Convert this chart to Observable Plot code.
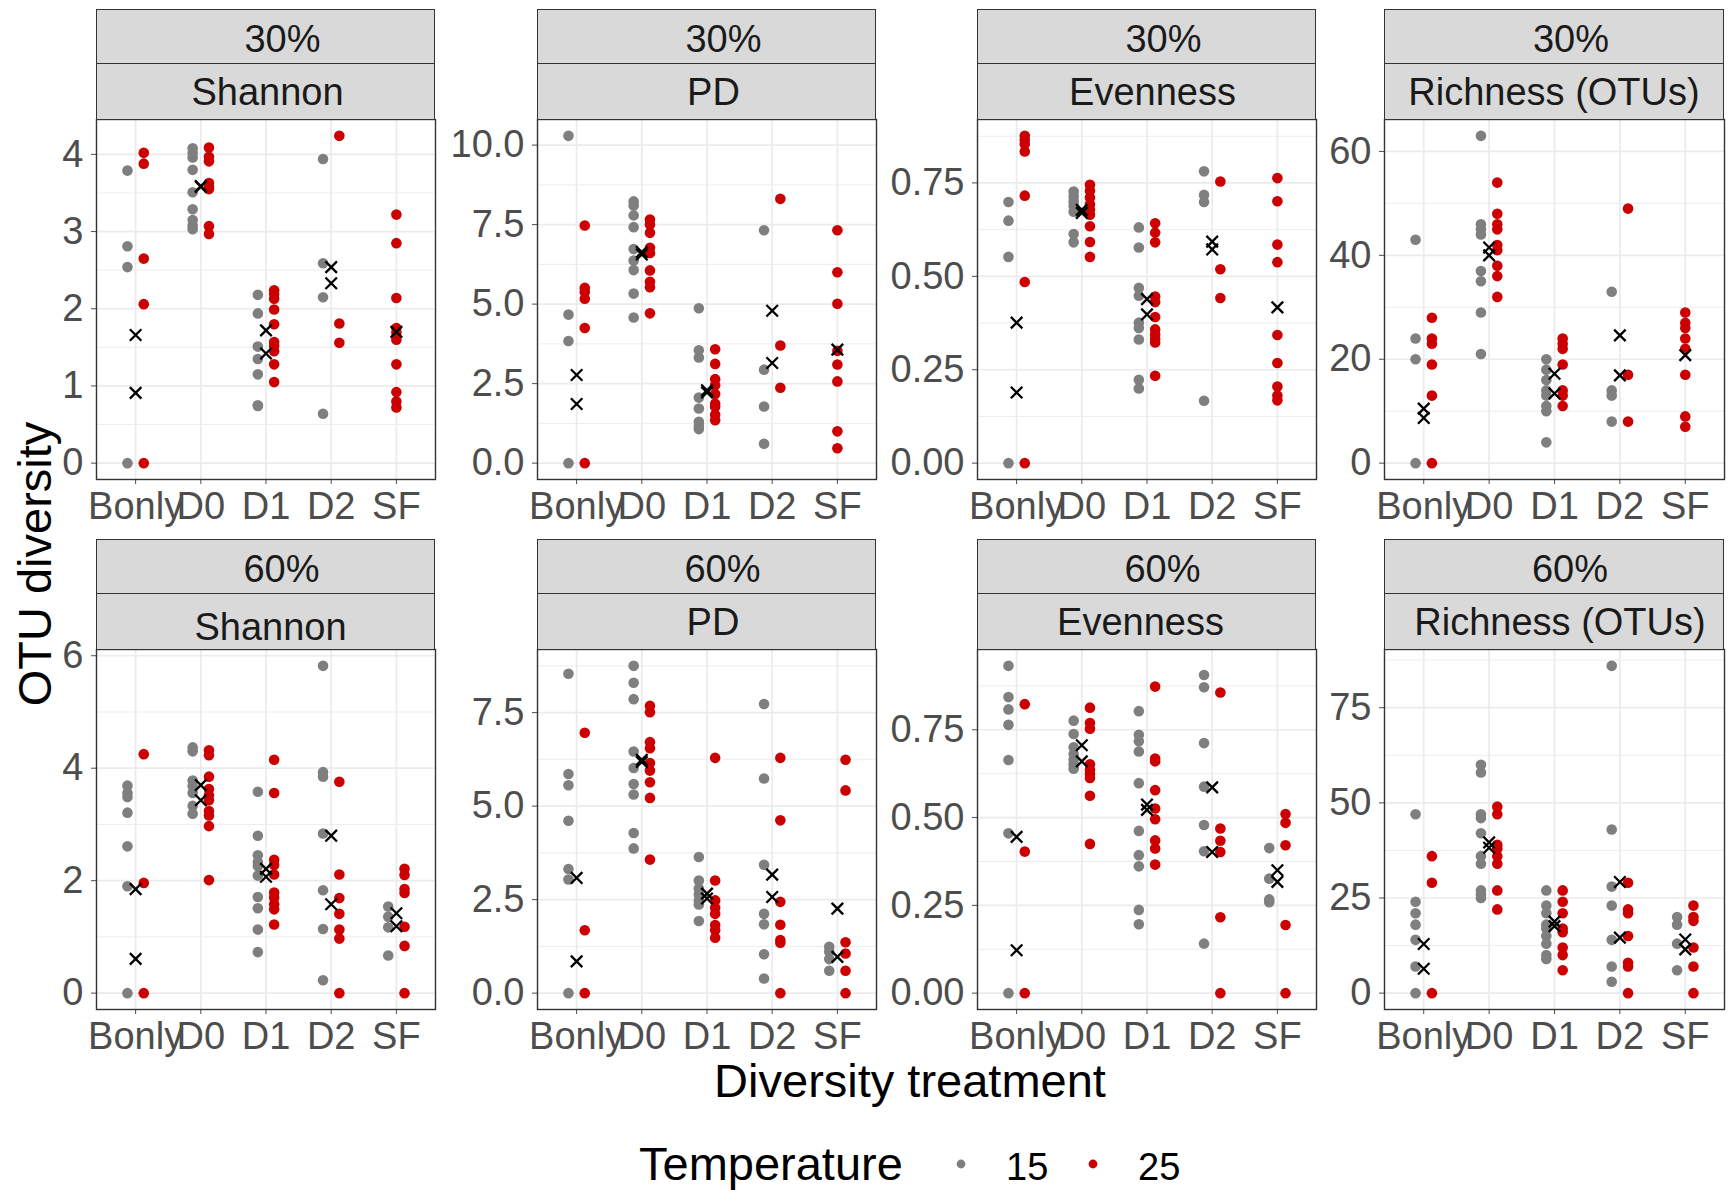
<!DOCTYPE html>
<html><head><meta charset="utf-8">
<script src="https://cdn.jsdelivr.net/npm/d3@7"></script>
<script src="https://cdn.jsdelivr.net/npm/@observablehq/plot@0.6"></script>
<style>
html,body{margin:0;padding:0;background:#fff;}
#root{position:relative;width:1733px;height:1190px;font-family:"Liberation Sans",Arial,Helvetica,sans-serif;overflow:hidden;background:#fff;}
.strip{position:absolute;box-sizing:border-box;background:#D9D9D9;border:1.4px solid #333333;color:#1A1A1A;font-size:38px;white-space:nowrap;}
.strip span{position:absolute;left:50%;top:50%;transform:translate(-50%,-50%);line-height:1;}
.panel{position:absolute;}
</style></head><body><div id="root"></div>
<script>
// ---------------- data ----------------
const categories = ["Bonly", "D0", "D1", "D2", "SF"];
const temperatures = ["15", "25"];
const rowLabels = ["30%", "60%"];
const metricLabels = ["Shannon", "PD", "Evenness", "Richness (OTUs)"];

// Shannon, 30%
const shannon30_t15 = [[3.79, 2.81, 2.54, 0], [4.08, 4.02, 3.96, 3.80, 3.51, 3.29, 3.15, 3.08, 3.03], [2.18, 1.94, 1.51, 1.35, 1.15, 0.75, 0.74], [3.94, 2.59, 2.15, 0.64], []];
const shannon30_t25 = [[4.02, 3.88, 2.65, 2.06, 0], [4.09, 3.97, 3.91, 3.63, 3.58, 3.55, 3.07, 2.97], [2.24, 2.19, 2.13, 1.99, 1.80, 1.57, 1.52, 1.45, 1.28, 1.05], [4.24, 1.81, 1.56], [3.22, 2.85, 2.14, 1.75, 1.69, 1.60, 1.28, 0.92, 0.80, 0.72]];
const shannon30_means = [[1.66, 0.91], [3.58, 3.59], [1.72, 1.42], [2.54, 2.33], [1.70]];
// PD, 30%
const pd30_t15 = [[10.29, 4.67, 3.84, 0], [8.23, 8.10, 7.79, 7.42, 6.73, 6.37, 6.07, 5.33, 4.58], [4.87, 3.55, 3.32, 2.06, 1.72, 1.30, 1.17, 1.07], [7.32, 2.94, 1.78, 0.61], []];
const pd30_t25 = [[7.47, 5.51, 5.38, 5.17, 4.25, 0], [7.66, 7.50, 7.24, 6.77, 6.61, 6.06, 5.70, 5.53, 4.71], [3.58, 3.12, 2.64, 2.45, 2.17, 1.87, 1.77, 1.52, 1.35], [8.31, 3.70, 2.37], [7.32, 6.00, 5.01, 3.53, 3.10, 2.57, 1.00, 0.47]];
const pd30_means = [[2.77, 1.86], [6.64, 6.56], [2.29, 2.22], [4.79, 3.15], [3.57]];
// Evenness, 30%
const even30_t15 = [[0.699, 0.649, 0.552, 0], [0.727, 0.714, 0.700, 0.688, 0.673, 0.613, 0.591], [0.631, 0.577, 0.469, 0.448, 0.376, 0.362, 0.331, 0.223, 0.200], [0.781, 0.718, 0.699, 0.167], []];
const even30_t25 = [[0.876, 0.865, 0.854, 0.834, 0.716, 0.485, 0], [0.745, 0.729, 0.711, 0.693, 0.679, 0.665, 0.634, 0.592, 0.552], [0.642, 0.617, 0.591, 0.446, 0.431, 0.391, 0.358, 0.344, 0.332, 0.323, 0.234], [0.754, 0.519, 0.442], [0.763, 0.701, 0.585, 0.538, 0.343, 0.268, 0.205, 0.181, 0.168]];
const even30_means = [[0.376, 0.189], [0.678, 0.670], [0.439, 0.398], [0.593, 0.572], [0.417]];
// Richness, 30%
const rich30_t15 = [[43, 24, 20, 0], [63, 46, 45, 44, 37, 35, 29, 21], [20, 18, 16, 14, 13, 11, 10, 4], [33, 14, 13, 8], []];
const rich30_t25 = [[28, 24, 23, 19, 13, 0], [54, 48, 46, 45, 42, 41, 38, 36, 32], [24, 23, 22, 19, 14, 13, 11], [49, 17, 8], [29, 27, 26, 24, 22, 17, 9, 7]];
const rich30_means = [[10.5, 8.7], [41.5, 40.0], [17.2, 13.4], [24.6, 16.9], [20.8]];
// Shannon, 60%
const shannon60_t15 = [[3.69, 3.56, 3.49, 3.21, 2.61, 1.90, 0], [4.37, 4.30, 3.78, 3.68, 3.56, 3.33, 3.19], [3.58, 2.80, 2.45, 2.33, 2.26, 2.09, 1.71, 1.51, 1.13, 0.73], [5.82, 3.93, 3.85, 2.84, 1.83, 1.14, 0.23], [1.54, 1.36, 1.17, 0.67]];
const shannon60_t25 = [[4.25, 1.96, 0], [4.32, 4.23, 3.85, 3.63, 3.52, 3.43, 3.24, 3.16, 2.97, 2.01], [4.15, 3.56, 2.37, 2.28, 2.11, 1.79, 1.70, 1.58, 1.49, 1.22], [3.76, 2.11, 1.69, 1.41, 1.13, 0.97, 0], [2.21, 2.10, 1.85, 1.78, 1.18, 0.84, 0]];
const shannon60_means = [[1.85, 0.61], [3.70, 3.43], [2.21, 2.07], [2.80, 1.58], [1.42, 1.19]];
// PD, 60%
const pd60_t15 = [[8.54, 5.86, 5.56, 4.61, 3.32, 3.04, 0], [8.75, 8.30, 7.86, 6.46, 6.02, 5.59, 5.31, 4.28, 3.87], [3.64, 3.01, 2.80, 2.64, 2.48, 2.37, 1.93], [7.73, 5.74, 3.43, 2.12, 1.84, 1.04, 0.39], [1.24, 1.11, 0.91, 0.60]];
const pd60_t25 = [[6.96, 1.68, 0], [7.68, 7.51, 6.71, 6.55, 6.15, 5.95, 5.64, 5.22, 3.57], [6.29, 3.01, 2.48, 2.28, 2.12, 1.82, 1.68, 1.48], [6.29, 4.62, 2.44, 1.83, 1.42, 1.35, 0], [6.24, 5.42, 1.36, 1.06, 0.60, 0]];
const pd60_means = [[3.08, 0.85], [6.24, 6.18], [2.66, 2.53], [3.17, 2.57], [2.26, 0.97]];
// Evenness, 60%
const even60_t15 = [[0.932, 0.843, 0.808, 0.764, 0.664, 0.455, 0], [0.776, 0.738, 0.700, 0.681, 0.665, 0.651, 0.639], [0.803, 0.736, 0.717, 0.688, 0.598, 0.462, 0.393, 0.361, 0.237, 0.196], [0.906, 0.871, 0.712, 0.588, 0.479, 0.404, 0.141], [0.413, 0.326, 0.267, 0.259]];
const even60_t25 = [[0.823, 0.403, 0], [0.813, 0.769, 0.753, 0.652, 0.636, 0.624, 0.613, 0.562, 0.425], [0.873, 0.668, 0.660, 0.578, 0.526, 0.495, 0.435, 0.412, 0.366], [0.856, 0.469, 0.434, 0.402, 0.216, 0], [0.510, 0.485, 0.421, 0.194, 0]];
const even60_means = [[0.445, 0.122], [0.706, 0.660], [0.537, 0.522], [0.586, 0.402], [0.350, 0.317]];
// Richness, 60%
const rich60_t15 = [[47, 24, 21, 18, 14, 7, 0], [60, 58, 47, 46, 42, 36, 34, 27, 26, 25], [27, 23, 21, 18, 17, 15, 13, 10, 9], [86, 43, 28, 23, 14, 7, 3], [20, 18, 13, 6]];
const rich60_t25 = [[36, 29, 0], [49, 47, 39, 38, 36, 34, 27, 22], [27, 24, 21, 17, 16, 12, 10, 6], [29, 22, 21, 15, 8, 7, 0], [23, 20, 19, 12, 7, 0]];
const rich60_means = [[12.9, 6.4], [39.6, 38.2], [18.8, 17.6], [29.2, 14.6], [14.1, 11.5]];

// tick values per metric
const shannonTicks30 = [0, 1, 2, 3, 4];
const shannonTicks60 = [0, 2, 4, 6];
const pdTicks30 = [0, 2.5, 5, 7.5, 10];
const pdTicks60 = [0, 2.5, 5, 7.5];
const evenTicks = [0, 0.25, 0.5, 0.75];
const richTicks30 = [0, 20, 40, 60];
const richTicks60 = [0, 25, 50, 75];

// ---------------- layout ----------------
const colors = {"15": "#7F7F7F", "25": "#CC0000"};
const panelLeft = [96, 537, 977, 1384];
const panelRight = [435, 876, 1316, 1724];
const rowTop = [119, 649];
const rowBottom = [479, 1009];
const stripTop = [9, 539];

const panels = [
  {row: 0, col: 0, t15: shannon30_t15, t25: shannon30_t25, means: shannon30_means, ticks: shannonTicks30, fmt: d3.format("d"), dx1: 17, dy1: 1.5, dx2: 2, dy2: 0},
  {row: 0, col: 1, t15: pd30_t15, t25: pd30_t25, means: pd30_means, ticks: pdTicks30, fmt: d3.format(".1f"), dx1: 17, dy1: 1.5, dx2: 7, dy2: 0},
  {row: 0, col: 2, t15: even30_t15, t25: even30_t25, means: even30_means, ticks: evenTicks, fmt: d3.format(".2f"), dx1: 17, dy1: 1.5, dx2: 6, dy2: 0},
  {row: 0, col: 3, t15: rich30_t15, t25: rich30_t25, means: rich30_means, ticks: richTicks30, fmt: d3.format("d"), dx1: 17, dy1: 1.5, dx2: 0, dy2: 0},
  {row: 1, col: 0, t15: shannon60_t15, t25: shannon60_t25, means: shannon60_means, ticks: shannonTicks60, fmt: d3.format("d"), dx1: 16, dy1: 1.5, dx2: 5, dy2: 4.5},
  {row: 1, col: 1, t15: pd60_t15, t25: pd60_t25, means: pd60_means, ticks: pdTicks60, fmt: d3.format(".1f"), dx1: 16, dy1: 1.5, dx2: 6.5, dy2: -0.5},
  {row: 1, col: 2, t15: even60_t15, t25: even60_t25, means: even60_means, ticks: evenTicks, fmt: d3.format(".2f"), dx1: 16, dy1: 1.5, dx2: -6, dy2: -0.5},
  {row: 1, col: 3, t15: rich60_t15, t25: rich60_t25, means: rich60_means, ticks: richTicks60, fmt: d3.format("d"), dx1: 16, dy1: 1.5, dx2: 6, dy2: -0.5}
];

const root = document.getElementById("root");
const ML = 100, MR = 2, MT = 2, MB = 70;
const DODGE = 0.125;

function addStrip(text, left, top, width, height, dx, dy) {
  const d = document.createElement("div");
  d.className = "strip";
  Object.assign(d.style, {left: left + "px", top: top + "px", width: width + "px", height: height + "px"});
  const s = document.createElement("span");
  s.textContent = text;
  s.style.transform = `translate(calc(-50% + ${dx}px), calc(-50% + ${dy}px))`;
  d.appendChild(s);
  root.appendChild(d);
}

for (const p of panels) {
  const L = panelLeft[p.col], R = panelRight[p.col];
  const T = rowTop[p.row], B = rowBottom[p.row];
  const w = R - L, h = B - T;

  const pts15 = [], pts25 = [], meanPts = [];
  categories.forEach((c, ci) => {
    const both = p.t15[ci].length > 0 && p.t25[ci].length > 0;
    p.t15[ci].forEach(v => pts15.push({x: ci + (both ? -DODGE : 0), y: v}));
    p.t25[ci].forEach(v => pts25.push({x: ci + (both ? DODGE : 0), y: v}));
    p.means[ci].forEach(v => meanPts.push({x: ci, y: v}));
  });
  const all = [...pts15, ...pts25, ...meanPts].map(d => d.y);
  const lo = d3.min(all), hi = d3.max(all), pad = 0.05 * (hi - lo);
  const domain = [lo - pad, hi + pad];
  const step = p.ticks[1] - p.ticks[0];
  const minor = [p.ticks[0] - step / 2, ...p.ticks.map(t => t + step / 2)].filter(v => v > domain[0] && v < domain[1]);

  const svg = Plot.plot({
    width: w + ML + MR,
    height: h + MT + MB,
    marginLeft: ML, marginRight: MR, marginTop: MT, marginBottom: MB,
    style: {fontFamily: '"Liberation Sans", Arial, sans-serif', fontSize: "38px", color: "#4D4D4D", background: "transparent", overflow: "visible"},
    x: {type: "linear", domain: [-0.6, 4.6], ticks: [0, 1, 2, 3, 4], tickFormat: i => categories[i], tickSize: 5, tickPadding: 8, label: null},
    y: {type: "linear", domain, ticks: p.ticks, tickFormat: p.fmt, tickSize: 5, tickPadding: 8, label: null},
    marks: [
      Plot.ruleY(minor, {stroke: "#EBEBEB", strokeWidth: 0.9}),
      Plot.ruleY(p.ticks, {stroke: "#EBEBEB", strokeWidth: 1.7}),
      Plot.ruleX([0, 1, 2, 3, 4], {stroke: "#EBEBEB", strokeWidth: 1.7}),
      Plot.dot(pts15, {x: "x", y: "y", r: 5.3, fill: colors["15"]}),
      Plot.dot(pts25, {x: "x", y: "y", r: 5.3, fill: colors["25"]}),
      Plot.dot(meanPts, {x: "x", y: "y", r: 5.3, symbol: "times", stroke: "black", strokeWidth: 2.3}),
      Plot.frame({stroke: "#333333", strokeWidth: 1.4})
    ]
  });
  const wrap = document.createElement("div");
  wrap.className = "panel";
  wrap.style.left = (L - ML) + "px";
  wrap.style.top = (T - MT) + "px";
  wrap.appendChild(svg);
  root.appendChild(wrap);

  const st = stripTop[p.row];
  addStrip(rowLabels[p.row], L, st, w, T - st - 55 + 1, p.dx1, p.dy1);
  addStrip(metricLabels[p.col], L, T - 56, w, 57, p.dx2, p.dy2);
}

// ---------------- titles and legend ----------------
const ns = "http://www.w3.org/2000/svg";
const ov = document.createElementNS(ns, "svg");
ov.setAttribute("width", 1733);
ov.setAttribute("height", 1190);
Object.assign(ov.style, {position: "absolute", left: 0, top: 0, pointerEvents: "none", fontFamily: '"Liberation Sans", Arial, sans-serif'});
function txt(s, x, y, size, anchor, extra) {
  const t = document.createElementNS(ns, "text");
  t.setAttribute("x", x); t.setAttribute("y", y);
  t.setAttribute("font-size", size);
  t.setAttribute("text-anchor", anchor);
  t.setAttribute("fill", "#000");
  if (extra) t.setAttribute("transform", extra);
  t.textContent = s;
  ov.appendChild(t);
}
function dot(cx, cy, fill) {
  const c = document.createElementNS(ns, "circle");
  c.setAttribute("cx", cx); c.setAttribute("cy", cy); c.setAttribute("r", 4.4); c.setAttribute("fill", fill);
  ov.appendChild(c);
}
txt("OTU diversity", 51, 564, 47, "middle", "rotate(-90 51 564)");
txt("Diversity treatment", 910, 1097, 47, "middle");
txt("Temperature", 639, 1180, 47, "start");
dot(961, 1164, colors["15"]);
txt(temperatures[0], 1006, 1180, 38, "start");
dot(1093, 1164, colors["25"]);
txt(temperatures[1], 1138, 1180, 38, "start");
root.appendChild(ov);
</script></body></html>
